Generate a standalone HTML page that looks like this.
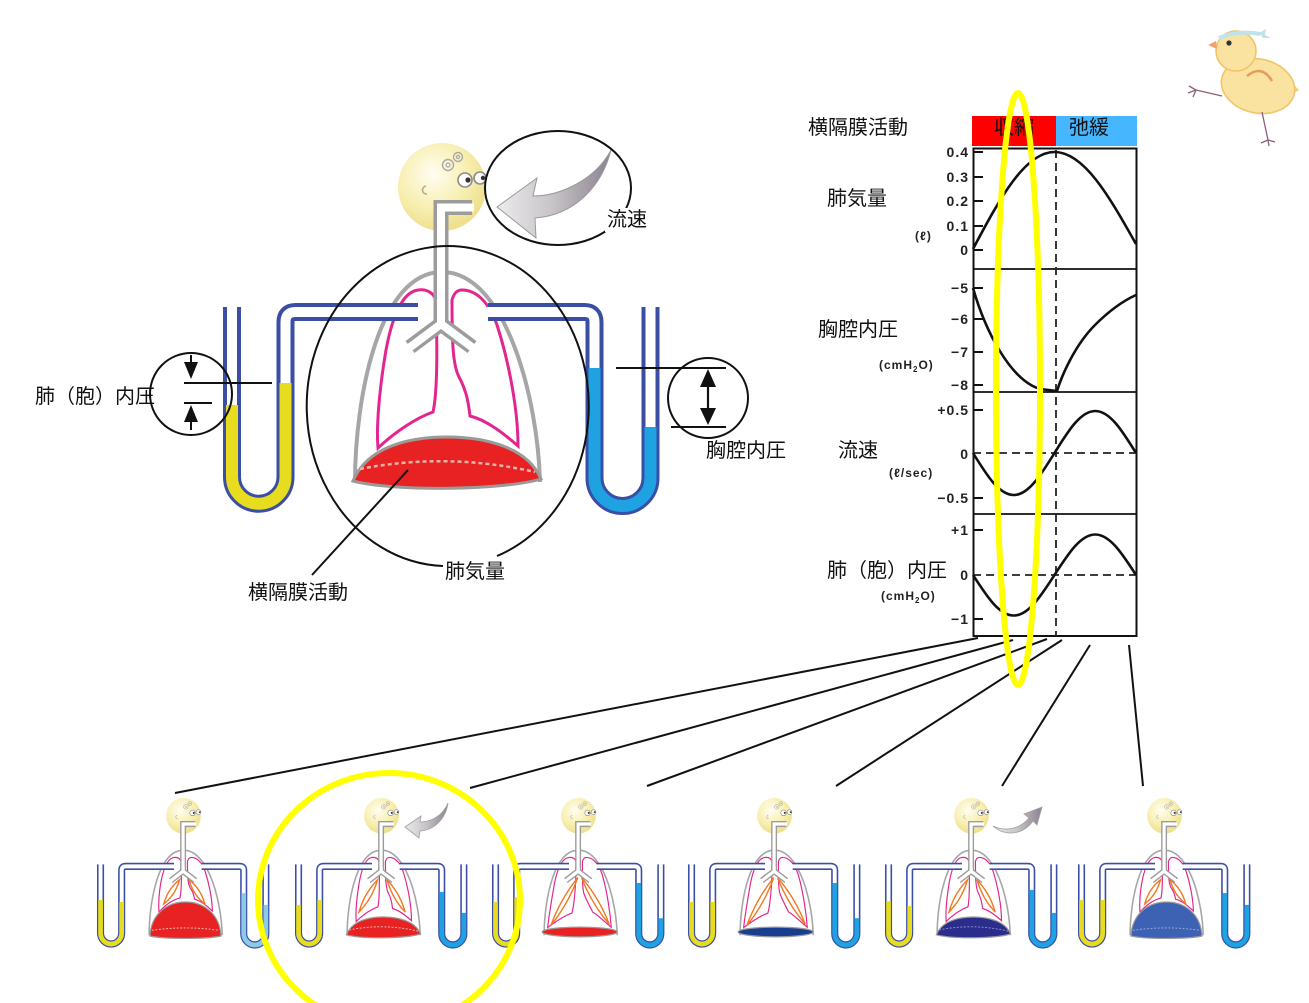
<!DOCTYPE html>
<html><head><meta charset="utf-8">
<style>
html,body{margin:0;padding:0;background:#fff;}
svg{display:block;}
text{font-family:"Liberation Sans","Noto Sans CJK JP",sans-serif;}
.jp{font-size:20px;fill:#111;font-family:"Liberation Sans","Noto Sans CJK JP",sans-serif;}
.tk{font-size:14px;font-weight:bold;fill:#222;letter-spacing:1px;}
.u{font-size:12px;font-weight:bold;fill:#222;letter-spacing:1px;}
</style></head><body>
<svg width="1309" height="1003" viewBox="0 0 1309 1003" xmlns="http://www.w3.org/2000/svg">
<defs>
 <radialGradient id="hg" cx="40%" cy="35%" r="65%">
   <stop offset="0" stop-color="#fffdf2"/>
   <stop offset="0.6" stop-color="#f8efb2"/>
   <stop offset="1" stop-color="#eee08e"/>
 </radialGradient>
 <linearGradient id="ag" x1="0" y1="0" x2="1" y2="0">
   <stop offset="0" stop-color="#ececec"/>
   <stop offset="0.5" stop-color="#c6c2c6"/>
   <stop offset="1" stop-color="#8a8290"/>
 </linearGradient>

 <g id="pleura">
   <path d="M355,482 C355,400 378,272 442,272 C506,272 538,400 540,482" fill="#fff" stroke="#a6a6a6" stroke-width="4"/>
 </g>

 <g id="lungA" fill="none" stroke="#e3268f" stroke-width="3">
   <path d="M418,290 C402,292 392,318 386,350 C380,385 376,425 378,448 C395,432 416,418 433,412 C438,390 437,340 436,300 C433,292 426,289 418,290 Z"/>
   <path d="M462,290 C478,290 490,305 497,325 C509,362 518,410 518,446 C502,432 486,420 470,416 C468,398 465,388 459,377 C453,365 452,345 452,300 C454,293 457,290 462,290 Z"/>
 </g>
 <g id="lungB" fill="none" stroke="#e3268f" stroke-width="3">
   <path d="M418,290 C402,292 392,318 386,345 C381,370 378,400 380,425 C395,408 415,395 433,390 C438,370 437,330 436,300 C433,292 426,289 418,290 Z"/>
   <path d="M462,290 C478,290 490,305 497,325 C507,355 515,395 515,422 C500,408 486,397 470,393 C468,380 464,372 459,365 C453,355 452,340 452,300 C454,293 457,290 462,290 Z"/>
 </g>
 <g id="lungC" fill="none" stroke="#e3268f" stroke-width="3">
   <path d="M418,290 C400,292 388,320 381,355 C374,395 366,440 364,463 C385,448 410,432 425,428 C432,405 436,350 436,300 C433,292 426,289 418,290 Z"/>
   <path d="M462,290 C480,290 494,308 502,332 C514,372 522,425 525,462 C508,450 492,432 478,425 C470,410 462,395 456,380 C452,368 452,345 452,300 C454,293 457,290 462,290 Z"/>
 </g>
 <g id="orA" fill="none" stroke="#f07820" stroke-width="3.5">
   <path d="M432,345 Q419,391 385,425 Q398,379 432,345 Z"/>
   <path d="M456,345 Q469,391 502,425 Q489,379 456,345 Z"/>
 </g>
 <g id="orB" fill="none" stroke="#f07820" stroke-width="3.5">
   <path d="M432,345 Q422,382 392,405 Q402,368 432,345 Z"/>
   <path d="M456,345 Q466,382 496,405 Q486,368 456,345 Z"/>
 </g>
 <g id="orC" fill="none" stroke="#f07820" stroke-width="3.5">
   <path d="M440,340 Q416,405 372,458 Q396,393 440,340 Z"/>
   <path d="M450,340 Q475,404 520,455 Q495,391 450,340 Z"/>
 </g>

 <path id="domeA" d="M353,481 C368,446 410,437 447,437 C487,437 528,448 541,479 C505,490 395,492 353,481 Z"/>
 <path id="domeB" d="M357,484 C360,430 400,400 447,400 C494,400 534,430 537,484 C500,492 394,492 357,484 Z"/>

 <g id="upper">
   <circle cx="442" cy="187" r="44" fill="url(#hg)"/>
   <circle cx="448" cy="165" r="5.5" fill="none" stroke="#a8a8a8" stroke-width="1.4"/>
   <circle cx="448" cy="165" r="2" fill="none" stroke="#a8a8a8" stroke-width="1.2"/>
   <circle cx="458" cy="157" r="4.5" fill="none" stroke="#a8a8a8" stroke-width="1.4"/>
   <circle cx="458" cy="157" r="1.6" fill="none" stroke="#a8a8a8" stroke-width="1.2"/>
   <path d="M426,186 a4,4 0 1 0 1,8" fill="none" stroke="#b0a890" stroke-width="1.5"/>
   <circle cx="465" cy="180" r="7" fill="#fff" stroke="#8a8a8a" stroke-width="1.6"/>
   <circle cx="468" cy="180" r="2.6" fill="#333"/>
   <circle cx="480" cy="178" r="6" fill="#fff" stroke="#8a8a8a" stroke-width="1.6"/>
   <circle cx="483" cy="178" r="2.2" fill="#333"/>
   <g fill="none" stroke="#9c9c9c" stroke-width="15" stroke-linejoin="miter">
     <path d="M472,207.5 L441,207.5 L441,324 L410,347"/>
     <path d="M441,314 L441,324 L472,347"/>
   </g>
   <g fill="none" stroke="#fff" stroke-width="8" stroke-linejoin="miter">
     <path d="M474,207.5 L441,207.5 L441,324 L409,348"/>
     <path d="M441,314 L441,324 L473,348"/>
   </g>
   <g fill="none" stroke="#3a4ea6" stroke-width="18">
     <path d="M232,307 L232,477 A26.75,26.75 0 0 0 285.5,477 L285.5,322 Q285.5,312 295.5,312 L418,312"/>
     <path d="M488,312 L584.5,312 Q594.5,312 594.5,322 L594.5,478 A28,28 0 0 0 650.5,478 L650.5,307"/>
   </g>
   <g fill="none" stroke="#fff" stroke-width="10">
     <path d="M232,306 L232,477 A26.75,26.75 0 0 0 285.5,477 L285.5,322 Q285.5,312 295.5,312 L419,312"/>
     <path d="M487,312 L584.5,312 Q594.5,312 594.5,322 L594.5,478 A28,28 0 0 0 650.5,478 L650.5,306"/>
   </g>
 </g>
</defs>

<rect width="1309" height="1003" fill="#fff"/>

<!-- MAIN DIAGRAM -->
<use href="#pleura"/>
<use href="#lungA"/>
<use href="#domeA" fill="#e82222" stroke="#9a9a9a" stroke-width="3"/>
<path d="M360,469 Q447,452 535,472" fill="none" stroke="#e8b4a8" stroke-width="2.5" stroke-dasharray="4,3"/>
<use href="#upper"/>
<path d="M232,405 L232,477 A26.75,26.75 0 0 0 285.5,477 L285.5,383" fill="none" stroke="#e8dc1e" stroke-width="12"/>
<path d="M594.5,368 L594.5,478 A28,28 0 0 0 650.5,478 L650.5,427" fill="none" stroke="#1ea2e2" stroke-width="12"/>

<path d="M497,207 L537,178 L533,196 C560,196 595,180 611,150 C602,186 575,215 535,218 L536,238 Z" fill="url(#ag)" stroke="#9a9a9a" stroke-width="1"/>

<ellipse cx="558" cy="188" rx="73" ry="57" fill="none" stroke="#111" stroke-width="2"/>
<rect x="605" y="208" width="44" height="24" fill="#fff"/>
<text class="jp" x="607" y="220" dominant-baseline="central">流速</text>

<path d="M443,566 A141,160 0 1 1 497,556" fill="none" stroke="#111" stroke-width="2"/>
<text class="jp" x="445" y="572" dominant-baseline="central">肺気量</text>

<line x1="408" y1="470" x2="312" y2="575" stroke="#111" stroke-width="2"/>
<text class="jp" x="248" y="593" dominant-baseline="central">横隔膜活動</text>

<circle cx="191" cy="394" r="41" fill="none" stroke="#111" stroke-width="2"/>
<line x1="184" y1="383" x2="272" y2="383" stroke="#111" stroke-width="2"/>
<line x1="184" y1="403" x2="212" y2="403" stroke="#111" stroke-width="2"/>
<line x1="191" y1="355" x2="191" y2="364" stroke="#111" stroke-width="2"/>
<polygon points="184,362 198,362 191,379" fill="#111"/>
<line x1="191" y1="421" x2="191" y2="430" stroke="#111" stroke-width="2"/>
<polygon points="184,422 198,422 191,405" fill="#111"/>
<text class="jp" x="35" y="397" dominant-baseline="central">肺（胞）内圧</text>

<circle cx="708" cy="398" r="40" fill="none" stroke="#111" stroke-width="2"/>
<line x1="616" y1="368" x2="726" y2="368" stroke="#111" stroke-width="2"/>
<line x1="671" y1="427" x2="726" y2="427" stroke="#111" stroke-width="2"/>
<line x1="708" y1="384" x2="708" y2="411" stroke="#111" stroke-width="2.2"/>
<polygon points="708,369 700,387 716,387" fill="#111"/>
<polygon points="708,425 700,408 716,408" fill="#111"/>
<rect x="704" y="440" width="84" height="22" fill="#fff"/>
<text class="jp" x="706" y="451" dominant-baseline="central">胸腔内圧</text>

<!-- GRAPH -->
<text class="jp" x="808" y="128" dominant-baseline="central">横隔膜活動</text>
<rect x="972" y="116" width="84" height="30" fill="#ff0000"/>
<rect x="1056" y="116" width="81" height="30" fill="#45b6ff"/>
<text class="jp" x="1014" y="128" text-anchor="middle" dominant-baseline="central">収縮</text>
<text class="jp" x="1089" y="128" text-anchor="middle" dominant-baseline="central">弛緩</text>

<rect x="973.5" y="148.5" width="163" height="487.5" fill="none" stroke="#111" stroke-width="2"/>
<g stroke="#111" stroke-width="1.8">
  <line x1="973" y1="269" x2="1137" y2="269"/>
  <line x1="973" y1="392" x2="1137" y2="392"/>
  <line x1="973" y1="514" x2="1137" y2="514"/>
</g>
<g stroke="#222" stroke-width="1.8" stroke-dasharray="8,5">
  <line x1="1056" y1="150" x2="1056" y2="636"/>
  <line x1="973" y1="453" x2="1137" y2="453"/>
  <line x1="973" y1="575" x2="1137" y2="575"/>
</g>
<g fill="none" stroke="#111" stroke-width="2.6">
  <path d="M973,249 C1000,198 1025,152 1054.5,152 C1084,152 1109,196 1136,244"/>
  <path d="M973,288 C985,330 1010,380 1040,389 L1057,391 C1062,375 1075,345 1095,325 C1110,310 1125,300 1136,295"/>
  <path d="M973,453 C986.6,475 999,495 1013.75,495 C1028.5,495 1040.9,475 1054.5,453 C1068.1,431 1080.5,411 1095.25,411 C1110,411 1122.4,431 1136,453"/>
  <path d="M973,575 C986.6,596 999,615.5 1013.75,615.5 C1028.5,615.5 1040.9,596 1054.5,575 C1068.1,554 1080.5,534.5 1095.25,534.5 C1110,534.5 1122.4,554 1136,575"/>
</g>
<g stroke="#111" stroke-width="2">
  <line x1="973" y1="152" x2="983" y2="152"/>
  <line x1="973" y1="177" x2="983" y2="177"/>
  <line x1="973" y1="201" x2="983" y2="201"/>
  <line x1="973" y1="226" x2="983" y2="226"/>
  <line x1="973" y1="250" x2="983" y2="250"/>
  <line x1="973" y1="288" x2="983" y2="288"/>
  <line x1="973" y1="319" x2="983" y2="319"/>
  <line x1="973" y1="352" x2="983" y2="352"/>
  <line x1="973" y1="385" x2="983" y2="385"/>
  <line x1="973" y1="410" x2="983" y2="410"/>
  <line x1="973" y1="498" x2="983" y2="498"/>
  <line x1="973" y1="530" x2="983" y2="530"/>
  <line x1="973" y1="619" x2="983" y2="619"/>
</g>
<g class="tk" text-anchor="end">
  <text class="tk" x="969" y="157">0.4</text>
  <text class="tk" x="969" y="182">0.3</text>
  <text class="tk" x="969" y="206">0.2</text>
  <text class="tk" x="969" y="231">0.1</text>
  <text class="tk" x="969" y="255">0</text>
  <text class="tk" x="969" y="293">−5</text>
  <text class="tk" x="969" y="324">−6</text>
  <text class="tk" x="969" y="357">−7</text>
  <text class="tk" x="969" y="390">−8</text>
  <text class="tk" x="969" y="415">+0.5</text>
  <text class="tk" x="969" y="459">0</text>
  <text class="tk" x="969" y="503">−0.5</text>
  <text class="tk" x="969" y="535">+1</text>
  <text class="tk" x="969" y="580">0</text>
  <text class="tk" x="969" y="624">−1</text>
</g>
<text class="u" x="915" y="240">(ℓ)</text>
<text class="u" x="879" y="369">(cmH<tspan font-size="8" dy="3">2</tspan><tspan dy="-3">O)</tspan></text>
<text class="u" x="889" y="477">(ℓ/sec)</text>
<text class="u" x="881" y="600">(cmH<tspan font-size="8" dy="3">2</tspan><tspan dy="-3">O)</tspan></text>

<text class="jp" x="827" y="199" dominant-baseline="central">肺気量</text>
<text class="jp" x="818" y="330" dominant-baseline="central">胸腔内圧</text>
<text class="jp" x="838" y="451" dominant-baseline="central">流速</text>
<text class="jp" x="827" y="571" dominant-baseline="central">肺（胞）内圧</text>

<g stroke="#111" stroke-width="2">
  <line x1="978" y1="638" x2="175" y2="793"/>
  <line x1="1013" y1="640" x2="470" y2="788"/>
  <line x1="1047" y1="639" x2="647" y2="786"/>
  <line x1="1062" y1="640" x2="836" y2="786"/>
  <line x1="1090" y1="645" x2="1002" y2="786"/>
  <line x1="1129" y1="645" x2="1143" y2="786"/>
</g>

<ellipse cx="1018" cy="389" rx="22" ry="296" fill="none" stroke="#ffff00" stroke-width="6"/>

<!-- SMALL DIAGRAMS -->
<g transform="translate(8.9,740) scale(0.395,0.405)">
  <use href="#pleura"/>
  <use href="#lungB"/>
  <use href="#orB"/>
  <use href="#domeB" fill="#e82222" stroke="#9a9a9a" stroke-width="3"/>
  <path d="M362,470 Q447,458 532,470" fill="none" stroke="#e8b4a8" stroke-width="2.5" stroke-dasharray="5,4"/>
  <use href="#upper"/>
  <path d="M232,395 L232,477 A26.75,26.75 0 0 0 285.5,477 L285.5,400" fill="none" stroke="#e8dc1e" stroke-width="12"/>
  <path d="M594.5,378 L594.5,478 A28,28 0 0 0 650.5,478 L650.5,407" fill="none" stroke="#8ccbe8" stroke-width="12"/>
</g>
<g transform="translate(206.9,740) scale(0.395,0.405)">
  <use href="#pleura"/>
  <use href="#lungA"/>
  <use href="#orA"/>
  <use href="#domeA" fill="#e82222" stroke="#9a9a9a" stroke-width="3"/>
  <path d="M360,469 Q447,452 535,472" fill="none" stroke="#e8b4a8" stroke-width="2.5" stroke-dasharray="5,4"/>
  <use href="#upper"/>
  <path d="M232,407 L232,477 A26.75,26.75 0 0 0 285.5,477 L285.5,395" fill="none" stroke="#e8dc1e" stroke-width="12"/>
  <path d="M594.5,375 L594.5,478 A28,28 0 0 0 650.5,478 L650.5,427" fill="none" stroke="#1ea2e2" stroke-width="12"/>
</g>
<path d="M405,827 L421,816 L420,822 C432,822 443,815 448,803 C446,818 435,830 420,831 L419,838 Z" fill="url(#ag)" stroke="#a0a0a0" stroke-width="0.8"/>
<g transform="translate(403.9,740) scale(0.395,0.405)">
  <use href="#pleura"/>
  <use href="#lungC"/>
  <use href="#orC"/>
  <ellipse cx="445" cy="474" rx="95" ry="12" fill="#e82222" stroke="#9a9a9a" stroke-width="3"/>
  <use href="#upper"/>
  <path d="M232,400 L232,477 A26.75,26.75 0 0 0 285.5,477 L285.5,388" fill="none" stroke="#e8dc1e" stroke-width="12"/>
  <path d="M594.5,353 L594.5,478 A28,28 0 0 0 650.5,478 L650.5,440" fill="none" stroke="#1ea2e2" stroke-width="12"/>
</g>
<g transform="translate(599.9,740) scale(0.395,0.405)">
  <use href="#pleura"/>
  <use href="#lungC"/>
  <use href="#orC"/>
  <ellipse cx="445" cy="474" rx="95" ry="12" fill="#1a3d8f" stroke="#9a9a9a" stroke-width="3"/>
  <use href="#upper"/>
  <path d="M232,400 L232,477 A26.75,26.75 0 0 0 285.5,477 L285.5,400" fill="none" stroke="#e8dc1e" stroke-width="12"/>
  <path d="M594.5,353 L594.5,478 A28,28 0 0 0 650.5,478 L650.5,440" fill="none" stroke="#1ea2e2" stroke-width="12"/>
</g>
<g transform="translate(796.9,740) scale(0.395,0.405)">
  <use href="#pleura"/>
  <use href="#lungA"/>
  <use href="#orA"/>
  <use href="#domeA" fill="#2b2d8c" stroke="#9a9a9a" stroke-width="3"/>
  <path d="M360,469 Q447,452 535,472" fill="none" stroke="#8a8cc8" stroke-width="2.5" stroke-dasharray="5,4"/>
  <use href="#upper"/>
  <path d="M232,398 L232,477 A26.75,26.75 0 0 0 285.5,477 L285.5,410" fill="none" stroke="#e8dc1e" stroke-width="12"/>
  <path d="M594.5,370 L594.5,478 A28,28 0 0 0 650.5,478 L650.5,427" fill="none" stroke="#1ea2e2" stroke-width="12"/>
</g>
<path d="M993,826 C1005,832 1020,829 1029,818 L1024,814 L1042,807 L1037,825 L1033,821 C1022,836 1004,836 993,826 Z" fill="url(#ag)" stroke="#a0a0a0" stroke-width="0.8"/>
<g transform="translate(989.9,740) scale(0.395,0.405)">
  <use href="#pleura"/>
  <use href="#lungB"/>
  <use href="#orB"/>
  <use href="#domeB" fill="#3d62b3" stroke="#9a9a9a" stroke-width="3"/>
  <path d="M362,470 Q447,458 532,470" fill="none" stroke="#90a8d8" stroke-width="2.5" stroke-dasharray="5,4"/>
  <use href="#upper"/>
  <path d="M232,395 L232,477 A26.75,26.75 0 0 0 285.5,477 L285.5,395" fill="none" stroke="#e8dc1e" stroke-width="12"/>
  <path d="M594.5,378 L594.5,478 A28,28 0 0 0 650.5,478 L650.5,407" fill="none" stroke="#1ea2e2" stroke-width="12"/>
</g>

<ellipse cx="389" cy="900" rx="131" ry="127" fill="none" stroke="#ffff00" stroke-width="6"/>

<!-- CHICK -->
<g>
  <path d="M1286,78 L1298,90 L1284,98 Z" fill="#fae3a0" stroke="#f2c468" stroke-width="1.2"/>
  <ellipse cx="1258" cy="86" rx="37" ry="27" fill="#fae3a0" stroke="#f2c468" stroke-width="1.6" transform="rotate(12 1258 86)"/>
  <circle cx="1236" cy="51" r="20" fill="#fae3a0" stroke="#f2c468" stroke-width="1.6"/>
  <path d="M1219,38 Q1238,30 1260,34" stroke="#bfe3ea" stroke-width="4" fill="none"/>
  <path d="M1259,33 l7,-4 l-1,6 l6,3 l-8,0 Z" fill="#bfe3ea"/>
  <path d="M1216,41 L1208,45 L1217,49 Z" fill="#f2a070"/>
  <circle cx="1229" cy="43" r="2.6" fill="#333"/>
  <path d="M1247,76 Q1262,64 1272,81" stroke="#e89a5a" stroke-width="2.5" fill="none"/>
  <path d="M1222,96 L1196,90 M1196,90 l-7,-4 M1196,90 l-8,3 M1196,90 l-3,7" stroke="#8a6078" stroke-width="1.3" fill="none"/>
  <path d="M1262,112 L1268,140 M1268,140 l-7,3 M1268,140 l7,2 M1268,140 l1,6" stroke="#8a6078" stroke-width="1.3" fill="none"/>
</g>
</svg>
</body></html>
